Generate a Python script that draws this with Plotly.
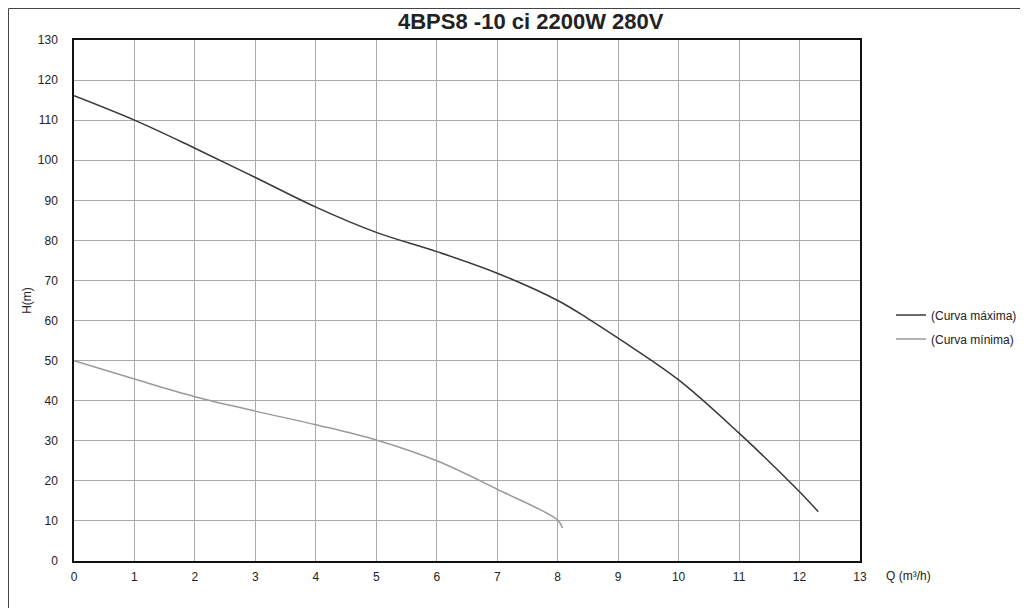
import plotly.graph_objects as go

title = "4BPS8 -10 ci 2200W 280V"

q_max = [0, 1, 2, 3, 4, 5, 6, 7, 8, 8.5, 9, 10, 11, 12, 12.31]
h_max = [116.1, 110.0, 103.0, 95.7, 88.3, 82.0, 77.2, 71.8, 65.0, 60.5, 55.6, 45.2, 31.9, 17.3, 12.3]

q_min = [0, 1, 2, 3, 4, 5, 6, 7, 8, 8.08]
h_min = [50.0, 45.4, 41.0, 37.4, 34.0, 30.2, 25.0, 17.9, 10.2, 8.2]

x_ticks = list(range(0, 14))
y_ticks = list(range(0, 131, 10))

fig = go.Figure()
fig.add_trace(go.Scatter(x=q_max, y=h_max, mode="lines", name="(Curva máxima)", legendgroup="a",
                         line=dict(color="#383838", width=1.5, shape="spline", smoothing=1.0)))
fig.add_trace(go.Scatter(x=q_min, y=h_min, mode="lines", name="(Curva mínima)", legendgroup="b",
                         line=dict(color="#9a9a9a", width=1.5, shape="spline", smoothing=1.0)))

OFF = 8  # page body margin
W, H = 1020, 600
L, T = 74 - OFF, 40 - OFF
pw, ph = 786, 521
R = W - L - pw
B = H - T - ph

def px(x):
    return (x - OFF - L) / pw

def py(y):
    return (T + ph - (y - OFF)) / ph

FONT = "Liberation Sans, Arial, sans-serif"

fig.update_layout(
    width=W, height=H,
    margin=dict(l=L, r=R, t=T, b=B, autoexpand=False),
    paper_bgcolor="white", plot_bgcolor="white",
    font=dict(family=FONT, size=12, color="#222"),
    showlegend=True,
    legend=dict(x=px(891), y=py(327), xanchor="left", yanchor="middle",
                font=dict(size=12, color="#222"), bgcolor="rgba(0,0,0,0)",
                tracegroupgap=5, itemwidth=30),
    xaxis=dict(range=[0, 13], tickvals=x_ticks, ticktext=[str(v) for v in x_ticks],
               showgrid=True, gridcolor="#ababab", gridwidth=1,
               showline=True, linecolor="#111", linewidth=1.5, mirror=True,
               zeroline=False, ticks="", ticklen=0, ticklabelstandoff=4, automargin=False,
               tickfont=dict(size=12, color="#222")),
    yaxis=dict(range=[0, 130], tickvals=y_ticks, ticktext=[str(v) for v in y_ticks],
               showgrid=True, gridcolor="#ababab", gridwidth=1,
               showline=True, linecolor="#111", linewidth=1.5, mirror=True,
               zeroline=False, ticks="", ticklen=0, ticklabelstandoff=12, automargin=False,
               tickfont=dict(size=12, color="#222"),
               title=dict(text="H(m)", font=dict(size=12, color="#222"), standoff=4)),
    annotations=[
        dict(text="<b>" + title + "</b>", x=px(531), y=py(22), xref="paper", yref="paper",
             showarrow=False, xanchor="center", yanchor="middle",
             font=dict(size=22, color="#222", family=FONT)),
        dict(text="Q (m³/h)", x=px(884), y=py(576), xref="paper", yref="paper",
             showarrow=False, xanchor="left", yanchor="middle",
             font=dict(size=12, color="#222")),
    ],
    shapes=[
        dict(type="rect", xref="paper", yref="paper",
             x0=px(8.5), x1=px(1026), y0=py(620), y1=py(8.5),
             line=dict(color="#444", width=1), fillcolor="rgba(0,0,0,0)", layer="below"),
    ],
)

fig.write_html("out.html")
